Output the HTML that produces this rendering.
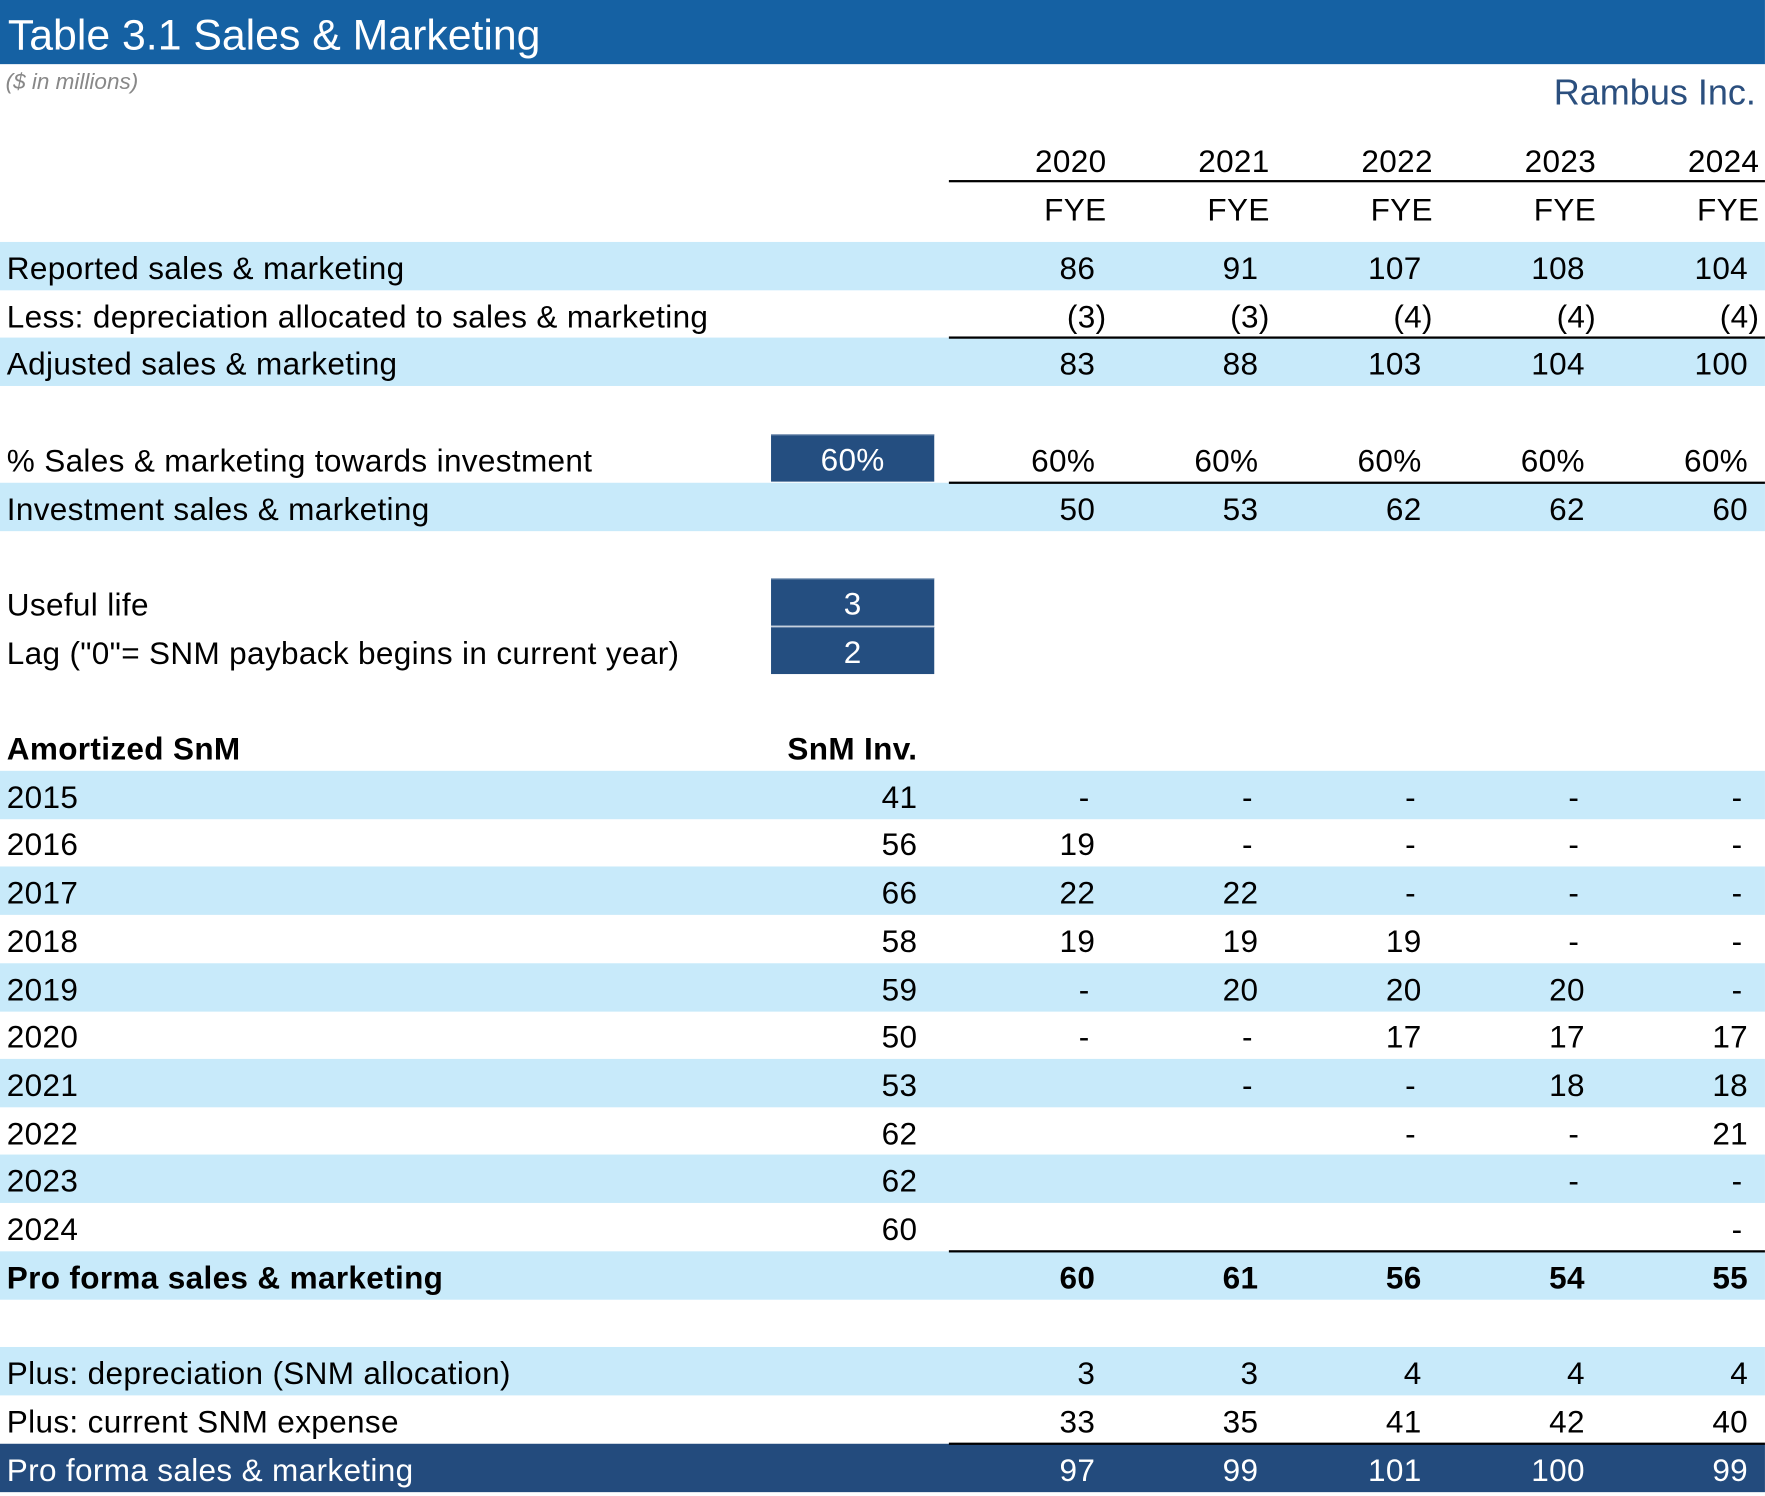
<!DOCTYPE html>
<html><head><meta charset="utf-8"><style>
html,body{margin:0;padding:0;background:#fff;overflow:hidden}
body{width:1765px;height:1491px}
#wrap{position:absolute;left:0;top:0;width:1568px;height:1325px;transform:scale(1.1256,1.1253);transform-origin:0 0;font-family:"Liberation Sans",sans-serif;color:#000}
.abs{position:absolute;white-space:nowrap}
.band{position:absolute;left:0;width:1568px;height:43px;background:#c8eafa}
.t{position:absolute;font-size:28px;line-height:47px;white-space:nowrap;letter-spacing:0.3px}
.r{text-align:right}
.line{position:absolute;height:2px;background:#000}
</style></head><body>
<div id="wrap">
<div class="abs" style="left:0;top:0;width:1568px;height:57px;background:#1561a3"></div>
<div class="abs" style="left:7px;top:10px;font-size:38px;color:#fff;line-height:44px">Table 3.1 Sales &amp; Marketing</div>
<div class="abs" style="left:5px;top:62px;font-size:20px;font-style:italic;color:#888">($ in millions)</div>
<div class="abs" style="right:8px;top:64px;font-size:32px;color:#2b4f7e">Rambus Inc.</div>
</div>
<script>
const years = ['2020','2021','2022','2023','2024'];
const reported = ['86','91','107','108','104'];
const lessDep = ['(3)','(3)','(4)','(4)','(4)'];
const adjusted = ['83','88','103','104','100'];
const pctInv = ['60%','60%','60%','60%','60%'];
const investment = ['50','53','62','62','60'];
const amortYears = ['2015','2016','2017','2018','2019','2020','2021','2022','2023','2024'];
const snmInv = ['41','56','66','58','59','50','53','62','62','60'];
const amort = [
 ['-','-','-','-','-'],
 ['19','-','-','-','-'],
 ['22','22','-','-','-'],
 ['19','19','19','-','-'],
 ['-','20','20','20','-'],
 ['-','-','17','17','17'],
 ['','-','-','18','18'],
 ['','','-','-','21'],
 ['','','','-','-'],
 ['','','','','-']
];
const proForma = ['60','61','56','54','55'];
const plusDep = ['3','3','4','4','4'];
const currentExp = ['33','35','41','42','40'];
const total = ['97','99','101','100','99'];

const W = document.getElementById('wrap');
const colRight = i => 983 + 145*i;
const rowTop = i => 215 + 42.7*i;
function add(cls, style, text){
  const d=document.createElement('div'); d.className=cls; d.setAttribute('style',style);
  if(text!==undefined) d.textContent=text; W.appendChild(d); return d;
}
function band(i,color,name){
  const b=add('band','top:'+rowTop(i)+'px;'+(color?'background:'+color:''));
  
  
}
function line(y,name){
  const l=add('line','left:843px;width:725px;top:'+(y-1)+'px');
  
  
}
function label(i,text,name,extra){
  const l=add('t','left:6px;top:'+rowTop(i)+'px;'+(extra||''),text);
  
  
}
function vals(i,arr,name,extra){
  arr.forEach((v,k)=>{
    if(v==='') return;
    const paren = v.endsWith(')');
    const right = colRight(k) - (paren?0:10) - (v==='-'?5:0);
    const c=add('t r','left:'+(right-140)+'px;width:140px;top:'+rowTop(i)+'px;'+(extra||''),v);
    
    
  });
}
function box(i,text,name){
  const b=add('t','left:685px;width:145px;text-align:center;top:'+rowTop(i)+'px;height:42px;background:#244e80;color:#fff;border-top:1px solid #6a86aa;box-sizing:border-box;line-height:44px',text);
  
  
}

band(0,null,'band-reported'); band(2,null,'band-adjusted'); band(5,null,'band-investment');
amortYears.forEach((y,k)=>{ if(k%2===0) band(11+k,null,'band-amort-'+y); });
band(21,null,'band-proforma'); band(23,null,'band-plus-dep'); band(25,'#234b7d','band-total');

years.forEach((y,k)=>{
  const c=add('t r','left:'+(colRight(k)-140)+'px;width:140px;top:120px',y);
  
  
  const f=add('t r','left:'+(colRight(k)-140)+'px;width:140px;top:163px','FYE');
  
  
});
line(161,'header-underline');

label(0,'Reported sales & marketing','reported-label'); vals(0,reported,'reported');
label(1,'Less: depreciation allocated to sales & marketing','less-dep-label'); vals(1,lessDep,'less-dep');
line(rowTop(2),'adjusted-line');
label(2,'Adjusted sales & marketing','adjusted-label'); vals(2,adjusted,'adjusted');

label(4,'% Sales & marketing towards investment','pct-label'); box(4,'60%','pct-input'); vals(4,pctInv,'pct');
line(rowTop(5),'investment-line');
label(5,'Investment sales & marketing','investment-label'); vals(5,investment,'investment');

label(7,'Useful life','useful-life-label'); box(7,'3','useful-life-input');
label(8,'Lag ("0"= SNM payback begins in current year)','lag-label'); box(8,'2','lag-input');

label(10,'Amortized SnM','amortized-header','font-weight:bold');
const h=add('t r','left:615px;width:200px;top:'+rowTop(10)+'px;font-weight:bold','SnM Inv.');


amortYears.forEach((y,k)=>{
  label(11+k,y,'amort-year-'+y);
  const s=add('t r','left:615px;width:200px;top:'+rowTop(11+k)+'px',snmInv[k]);
  
  
  vals(11+k,amort[k],'amort-'+y);
});
line(rowTop(21),'proforma-line');
label(21,'Pro forma sales & marketing','proforma-label','font-weight:bold'); vals(21,proForma,'proforma','font-weight:bold');

label(23,'Plus: depreciation (SNM allocation)','plus-dep-label'); vals(23,plusDep,'plus-dep');
label(24,'Plus: current SNM expense','current-exp-label'); vals(24,currentExp,'current-exp');
line(rowTop(25),'total-line');
label(25,'Pro forma sales & marketing','total-label','color:#fff'); vals(25,total,'total','color:#fff');
</script>
</body></html>
